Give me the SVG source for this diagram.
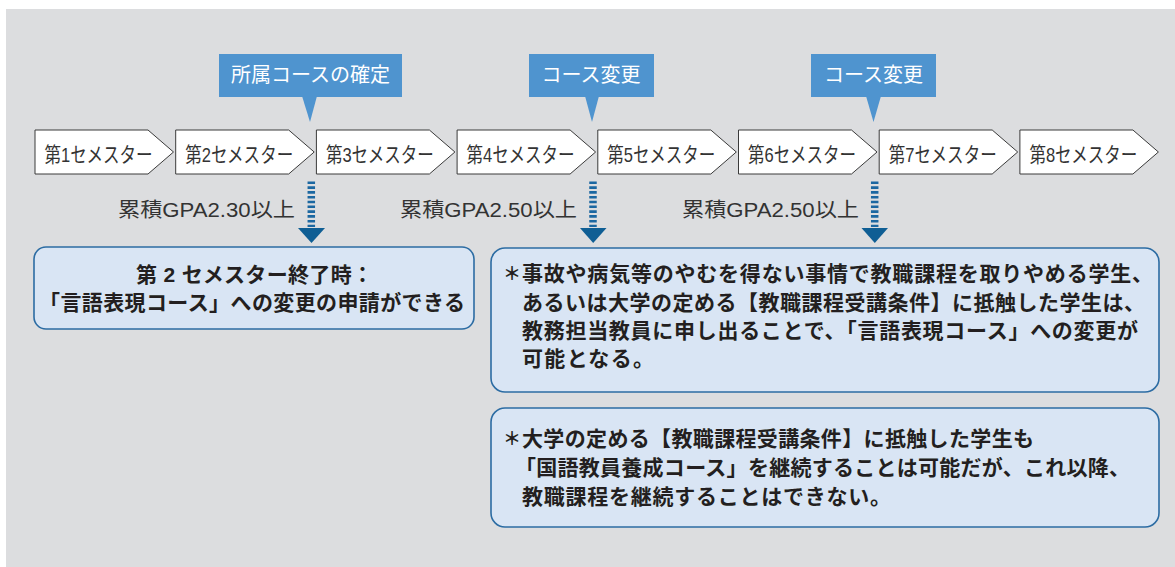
<svg xmlns="http://www.w3.org/2000/svg" width="1175" height="567" viewBox="0 0 1175 567">
<defs>
<style>
.bg{fill:#dcdddf}
.chev{fill:#ffffff;stroke:#3a3a3a;stroke-width:1}
.chevt{font-family:"Liberation Sans","Noto Sans CJK JP",sans-serif;font-size:21px;fill:#333333}
.call{fill:#4f94cf}
.callt{font-family:"Noto Sans CJK JP",sans-serif;font-size:20px;fill:#ffffff;text-anchor:middle}
.dash{stroke:#1b67a1;stroke-width:7.5;stroke-dasharray:2.6 2.2;fill:none}
.head{fill:#0f5e94}
.gpa{font-family:"Liberation Sans","Noto Sans CJK JP",sans-serif;font-size:20px;fill:#333333;text-anchor:end}
.box{fill:#d9e5f4;stroke:#2c6ca3;stroke-width:1.6}
.bt{font-family:"Liberation Sans","Noto Sans CJK JP",sans-serif;font-size:21px;font-weight:bold;fill:#231f20}
.ast{font-family:"Noto Sans CJK JP",sans-serif;font-size:18px;font-weight:bold;fill:#231f20}
</style>
<polygon id="chevShape" points="0,0 113,0 138.5,22 113,44 0,44"/>
</defs>
<rect class="bg" x="6" y="9" width="1169" height="558"/>

<g id="sem1"><use href="#chevShape" class="chev" x="35" y="130"/><text class="chevt" x="44.5" y="161.5" textLength="108" lengthAdjust="spacingAndGlyphs">第1セメスター</text></g>
<g id="sem2"><use href="#chevShape" class="chev" x="175.7" y="130"/><text class="chevt" x="185.2" y="161.5" textLength="108" lengthAdjust="spacingAndGlyphs">第2セメスター</text></g>
<g id="sem3"><use href="#chevShape" class="chev" x="316.4" y="130"/><text class="chevt" x="325.9" y="161.5" textLength="108" lengthAdjust="spacingAndGlyphs">第3セメスター</text></g>
<g id="sem4"><use href="#chevShape" class="chev" x="457.1" y="130"/><text class="chevt" x="466.6" y="161.5" textLength="108" lengthAdjust="spacingAndGlyphs">第4セメスター</text></g>
<g id="sem5"><use href="#chevShape" class="chev" x="597.8" y="130"/><text class="chevt" x="607.3" y="161.5" textLength="108" lengthAdjust="spacingAndGlyphs">第5セメスター</text></g>
<g id="sem6"><use href="#chevShape" class="chev" x="738.5" y="130"/><text class="chevt" x="748" y="161.5" textLength="108" lengthAdjust="spacingAndGlyphs">第6セメスター</text></g>
<g id="sem7"><use href="#chevShape" class="chev" x="879.2" y="130"/><text class="chevt" x="888.7" y="161.5" textLength="108" lengthAdjust="spacingAndGlyphs">第7セメスター</text></g>
<g id="sem8"><use href="#chevShape" class="chev" x="1019.9" y="130"/><text class="chevt" x="1029.4" y="161.5" textLength="108" lengthAdjust="spacingAndGlyphs">第8セメスター</text></g>

<g id="callout1">
<rect class="call" x="219" y="54" width="183" height="43"/>
<polygon class="call" points="302,96 317,96 310,122"/>
<text class="callt" x="310.5" y="81.5">所属コースの確定</text>
</g>
<g id="callout2">
<rect class="call" x="529" y="54" width="125" height="43"/>
<polygon class="call" points="585,96 599,96 592,122"/>
<text class="callt" x="591" y="81.5">コース変更</text>
</g>
<g id="callout3">
<rect class="call" x="811" y="54" width="125" height="43"/>
<polygon class="call" points="866,96 881,96 873.5,122"/>
<text class="callt" x="873.5" y="81.5">コース変更</text>
</g>

<g id="connectors">
<line class="dash" x1="311.3" y1="181.5" x2="311.3" y2="227"/>
<polygon class="head" points="298,228 325,228 311.5,243"/>
<line class="dash" x1="593" y1="181.5" x2="593" y2="227"/>
<polygon class="head" points="580,228 606.5,228 593.2,243"/>
<line class="dash" x1="874.7" y1="181.5" x2="874.7" y2="227"/>
<polygon class="head" points="861.5,228 888,228 874.8,243"/>
</g>

<g id="gpa1"><text class="gpa" x="295" y="216.5" textLength="177" lengthAdjust="spacingAndGlyphs">累積GPA2.30以上</text></g>
<g id="gpa2"><text class="gpa" x="577" y="216.5" textLength="177" lengthAdjust="spacingAndGlyphs">累積GPA2.50以上</text></g>
<g id="gpa3"><text class="gpa" x="859" y="216.5" textLength="177" lengthAdjust="spacingAndGlyphs">累積GPA2.50以上</text></g>

<g id="box1">
<rect class="box" x="34" y="247" width="440" height="82" rx="12"/>
<text class="bt" x="136" y="281.5" textLength="237" lengthAdjust="spacing">第 2 セメスター終了時：</text>
<text class="bt" x="39" y="309.5" textLength="426" lengthAdjust="spacing">「言語表現コース」への変更の申請ができる</text>
</g>

<g id="box2">
<rect class="box" x="491" y="248" width="668" height="144" rx="14"/>
<text class="ast" x="503" y="280">＊</text>
<text class="bt" x="522" y="281" textLength="631" lengthAdjust="spacing">事故や病気等のやむを得ない事情で教職課程を取りやめる学生、</text>
<text class="bt" x="522" y="309.5" textLength="623" lengthAdjust="spacing">あるいは大学の定める【教職課程受講条件】に抵触した学生は、</text>
<text class="bt" x="522" y="338" textLength="616" lengthAdjust="spacing">教務担当教員に申し出ることで、「言語表現コース」への変更が</text>
<text class="bt" x="522" y="366" textLength="132" lengthAdjust="spacing">可能となる。</text>
</g>

<g id="box3">
<rect class="box" x="491" y="408" width="668" height="119" rx="14"/>
<text class="ast" x="503" y="445">＊</text>
<text class="bt" x="522" y="446" textLength="512" lengthAdjust="spacing">大学の定める【教職課程受講条件】に抵触した学生も</text>
<text class="bt" x="515" y="475" textLength="615" lengthAdjust="spacing">「国語教員養成コース」を継続することは可能だが、これ以降、</text>
<text class="bt" x="522" y="503.5" textLength="369" lengthAdjust="spacing">教職課程を継続することはできない。</text>
</g>
</svg>
